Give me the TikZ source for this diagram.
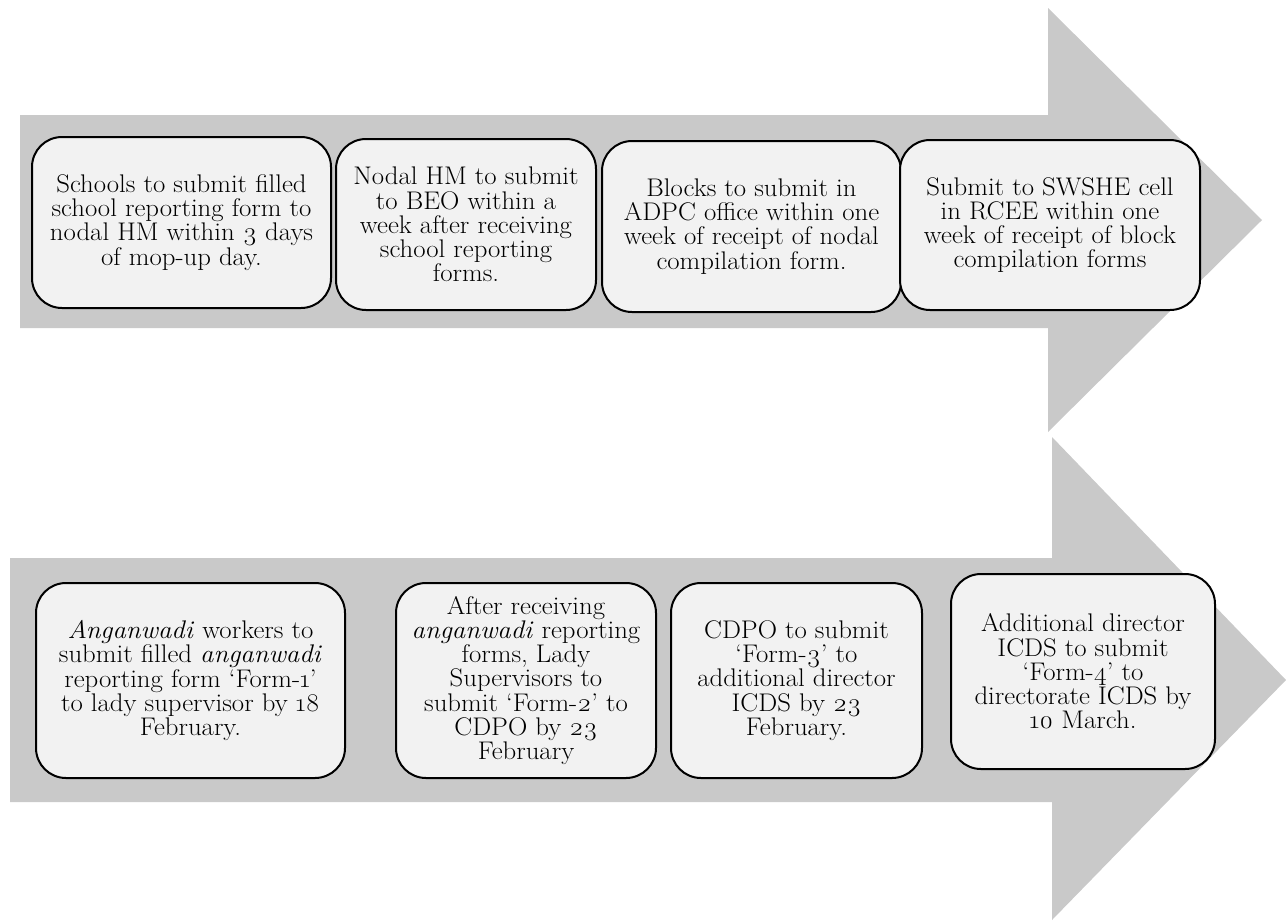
\documentclass[tikz,border=0pt]{standalone}
\usepackage{fontspec}
\setmainfont{Latin Modern Roman}[Numbers=OldStyle,FakeStretch=1.05]
\begin{document}
\begin{tikzpicture}[x=1pt,y=-1pt,
  arrowshape/.style={fill=arrowgray,draw=none},
  stepbox/.style={draw=black,line width=2pt,fill=boxgray,rounded corners=30pt,
    align=center,inner sep=0pt,font=\fontsize{25.5}{24.2}\selectfont},
]
\definecolor{arrowgray}{HTML}{C9C9C9}
\definecolor{boxgray}{HTML}{F2F2F2}
\useasboundingbox (0,0) rectangle (1286,922);
% arrows
\fill[arrowshape] (20,115) -- (1048,115) -- (1048,8) -- (1262,220) -- (1048,432) -- (1048,328) -- (20,328) -- cycle;
\fill[arrowshape] (10,558) -- (1052,558) -- (1052,437) -- (1286,680) -- (1052,920) -- (1052,802) -- (10,802) -- cycle;
% top row
\node[stepbox,minimum width=299pt,minimum height=171pt] (a1) at (181.5,222.5)
  {Schools to submit filled\\school reporting form to\\nodal HM within 3 days\\of mop-up day.};
\node[stepbox,minimum width=260pt,minimum height=171pt] (a2) at (466,224.5)
  {Nodal HM to submit\\to BEO within a\\week after receiving\\school reporting\\forms.};
\node[stepbox,minimum width=299pt,minimum height=171pt] (a3) at (751.5,226.5)
  {Blocks to submit in\\ADPC office within one\\week of receipt of nodal\\compilation form.};
\node[stepbox,minimum width=300pt,minimum height=170pt] (a4) at (1050,225)
  {Submit to SWSHE cell\\in RCEE within one\\week of receipt of block\\compilation forms};
% bottom row
\node[stepbox,minimum width=309pt,minimum height=195pt] (b1) at (190.5,680.5)
  {\textit{Anganwadi} workers to\\submit filled \textit{anganwadi}\\reporting form ‘Form-1’\\to lady supervisor by 18\\February.};
\node[stepbox,minimum width=260pt,minimum height=195pt] (b2) at (526,680.5)
  {After receiving\\\textit{anganwadi} reporting\\forms, Lady\\Supervisors to\\submit ‘Form-2’ to\\CDPO by 23\\February};
\node[stepbox,minimum width=251pt,minimum height=195pt] (b3) at (796.5,680.5)
  {CDPO to submit\\‘Form-3’ to\\additional director\\ICDS by 23\\February.};
\node[stepbox,minimum width=264pt,minimum height=195pt] (b4) at (1083,671.5)
  {Additional director\\ICDS to submit\\‘Form-4’ to\\directorate ICDS by\\10 March.};
\end{tikzpicture}
\end{document}
